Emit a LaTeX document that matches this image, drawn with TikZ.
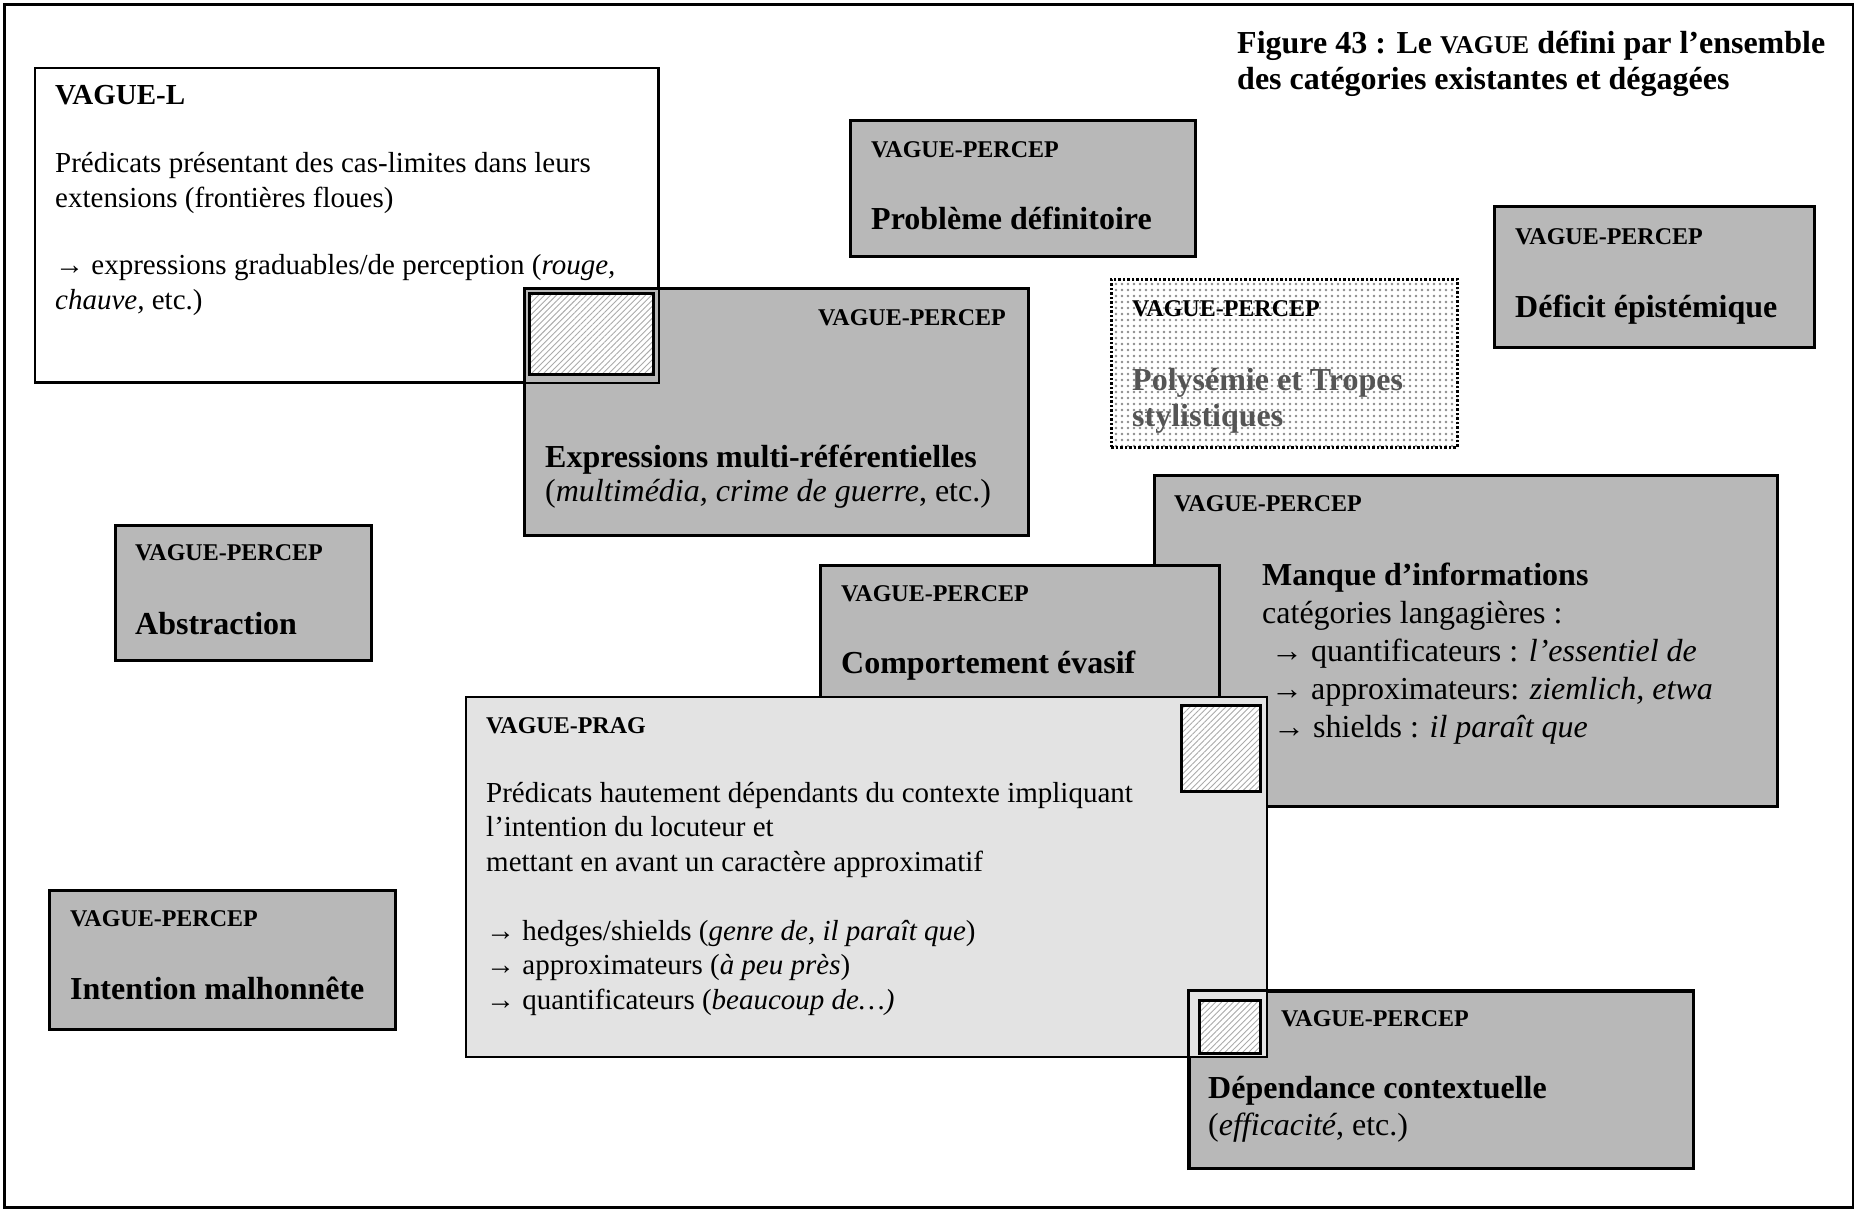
\documentclass[tikz,border=0pt]{standalone}
\usepackage{fontspec}
\setmainfont{Liberation Serif}
\usetikzlibrary{positioning, patterns.meta}

\definecolor{percepgray}{RGB}{184,184,184}
\definecolor{praggray}{RGB}{227,227,227}
\definecolor{hatchgray}{RGB}{170,170,170}
\definecolor{polygray}{RGB}{85,85,85}

\newcommand{\tagfont}{\fontsize{24}{28}\selectfont\bfseries}
\newcommand{\headfont}{\fontsize{32}{38}\selectfont\bfseries}
\newcommand{\bodyfont}{\fontsize{32}{38}\selectfont}
\newcommand{\smallfont}{\fontsize{29}{34.5}\selectfont}
\newcommand{\vaguesc}{{\fontsize{25.6}{30}\selectfont VAGUE}}

\tikzset{
  cadre/.style={draw=black, line width=3.5pt, anchor=north west, inner sep=0pt},
  lbox/.style={draw=black, line width=2pt, fill=white, anchor=north west, inner sep=0pt},
  percep/.style={draw=black, line width=3pt, fill=percepgray, anchor=north west, inner sep=0pt},
  pragbox/.style={draw=black, line width=2pt, fill=praggray, anchor=north west, inner sep=0pt},
  polybox/.style={draw=black, line width=2.5pt, dash pattern=on 2.5pt off 2pt,
    preaction={fill=white}, pattern={Dots[distance=6pt, radius=1.3pt]},
    pattern color=gray!90, anchor=north west, inner sep=0pt},
  hatchbox/.style={draw=black, line width=3pt, preaction={fill=white},
    pattern={Lines[angle=45, distance=4.2pt, line width=0.9pt]},
    pattern color=hatchgray, anchor=north west, inner sep=0pt},
  % base = derniere ligne pour les textes sur plusieurs lignes
  tagtxt/.style={anchor=base west, inner sep=0pt, font=\tagfont},
  headtxt/.style={anchor=base west, inner sep=0pt, align=left, font=\headfont},
  bodytxt/.style={anchor=base west, inner sep=0pt, align=left, font=\bodyfont},
  smalltxt/.style={anchor=base west, inner sep=0pt, align=left, font=\smallfont}
}

\begin{document}
\begin{tikzpicture}[x=1pt,y=-1pt]
\useasboundingbox (0,0) rectangle (1854,1208);
\node[cadre, minimum width=1849pt, minimum height=1203pt] (cadre) at (2.5,2.5) {};

% titre
\node[headtxt, font=\fontsize{32}{36}\selectfont\bfseries] (titre) at (1237,89)
  {Figure 43 : Le \vaguesc{} défini par l’ensemble\\des catégories existantes et dégagées};

% VAGUE-L et multi-referentiel
\node[lbox, minimum width=623pt, minimum height=314pt] (vaguel) at (34,67) {};
\node[headtxt, font=\fontsize{29}{34}\selectfont\bfseries] (vaguelTag) at (55,104) {VAGUE-L};
\node[smalltxt] (vaguelTxt) at (55,309) {Prédicats présentant des cas-limites dans leurs\\
  extensions (frontières floues)\\[33pt]
  → expressions graduables/de perception (\textit{rouge,}\\
  \textit{chauve,} etc.)};

\node[percep, minimum width=504pt, minimum height=247pt] (multiref) at (523,287) {};
\draw[line width=2pt] (vaguel.south west) -| (vaguel.north east);
\node[hatchbox, minimum width=124pt, minimum height=81pt] (hachMulti) at (529,293) {};
\node[tagtxt, anchor=base east] (multirefTag) at (1006,325) {VAGUE-PERCEP};
\node[bodytxt, font=\fontsize{32}{34}\selectfont] (multirefTxt) at (545,501)
  {\textbf{Expressions multi-référentielles}\\(\textit{multimédia, crime de guerre}, etc.)};

% cases du haut
\node[percep, minimum width=345pt, minimum height=136pt] (probleme) at (849,119) {};
\node[tagtxt] (problemeTag) at (871,157) {VAGUE-PERCEP};
\node[headtxt] (problemeTxt) at (871,229) {Problème définitoire};

\node[polybox, minimum width=346pt, minimum height=168pt] (polysemie) at (1110,278) {};
\node[tagtxt] (polysemieTag) at (1132,316) {VAGUE-PERCEP};
\node[headtxt, font=\fontsize{32}{36}\selectfont\bfseries, text=polygray] (polysemieTxt) at (1132,426)
  {Polysémie et Tropes\\stylistiques};

\node[percep, minimum width=320pt, minimum height=141pt] (deficit) at (1493,205) {};
\node[tagtxt] (deficitTag) at (1515,244) {VAGUE-PERCEP};
\node[headtxt] (deficitTxt) at (1515,317) {Déficit épistémique};

% cases de gauche
\node[percep, minimum width=256pt, minimum height=135pt] (abstraction) at (114,524) {};
\node[tagtxt] (abstractionTag) at (135,560) {VAGUE-PERCEP};
\node[headtxt] (abstractionTxt) at (135,634) {Abstraction};

\node[percep, minimum width=346pt, minimum height=139pt] (intention) at (48,889) {};
\node[tagtxt] (intentionTag) at (70,926) {VAGUE-PERCEP};
\node[headtxt] (intentionTxt) at (70,999) {Intention malhonnête};

% manque, comportement, VAGUE-PRAG, dependance
\node[percep, minimum width=623pt, minimum height=331pt] (manque) at (1153,474) {};
\node[tagtxt] (manqueTag) at (1174,511) {VAGUE-PERCEP};
\node[bodytxt] (manqueTxt) at (1262,737) {\textbf{Manque d’informations}\\
  catégories langagières :\\
  \hspace*{9pt}→ quantificateurs : \textit{l’essentiel de}\\
  \hspace*{9pt}→ approximateurs: \textit{ziemlich, etwa}\\
  \hspace*{11pt}→ shields : \textit{il paraît que}};

\node[percep, minimum width=399pt, minimum height=156pt] (comportement) at (819,564) {};
\node[tagtxt] (comportementTag) at (841,601) {VAGUE-PERCEP};
\node[headtxt] (comportementTxt) at (841,673) {Comportement évasif};

\node[percep, minimum width=504pt, minimum height=177pt] (dependance) at (1188,990) {};
\node[pragbox, minimum width=801pt, minimum height=360pt] (prag) at (465,696) {};
\draw[line width=3pt] (dependance.south west) |- (dependance.north east);
\node[hatchbox, minimum width=79pt, minimum height=86pt] (hachPrag) at (1180,704) {};
\node[hatchbox, minimum width=61pt, minimum height=53pt] (hachDep) at (1198,999) {};

\node[tagtxt] (pragTag) at (486,733) {VAGUE-PRAG};
\node[smalltxt] (pragTxt) at (486,1009) {Prédicats hautement dépendants du contexte impliquant\\
  l’intention du locuteur et\\
  mettant en avant un caractère approximatif\\[34.5pt]
  → hedges/shields (\textit{genre de, il paraît que})\\
  → approximateurs (\textit{à peu près})\\
  → quantificateurs (\textit{beaucoup de…)}};

\node[tagtxt] (dependanceTag) at (1281,1026) {VAGUE-PERCEP};
\node[bodytxt, font=\fontsize{32}{37}\selectfont] (dependanceTxt) at (1208,1135)
  {\textbf{Dépendance contextuelle}\\(\textit{efficacité}, etc.)};
\end{tikzpicture}
\end{document}
